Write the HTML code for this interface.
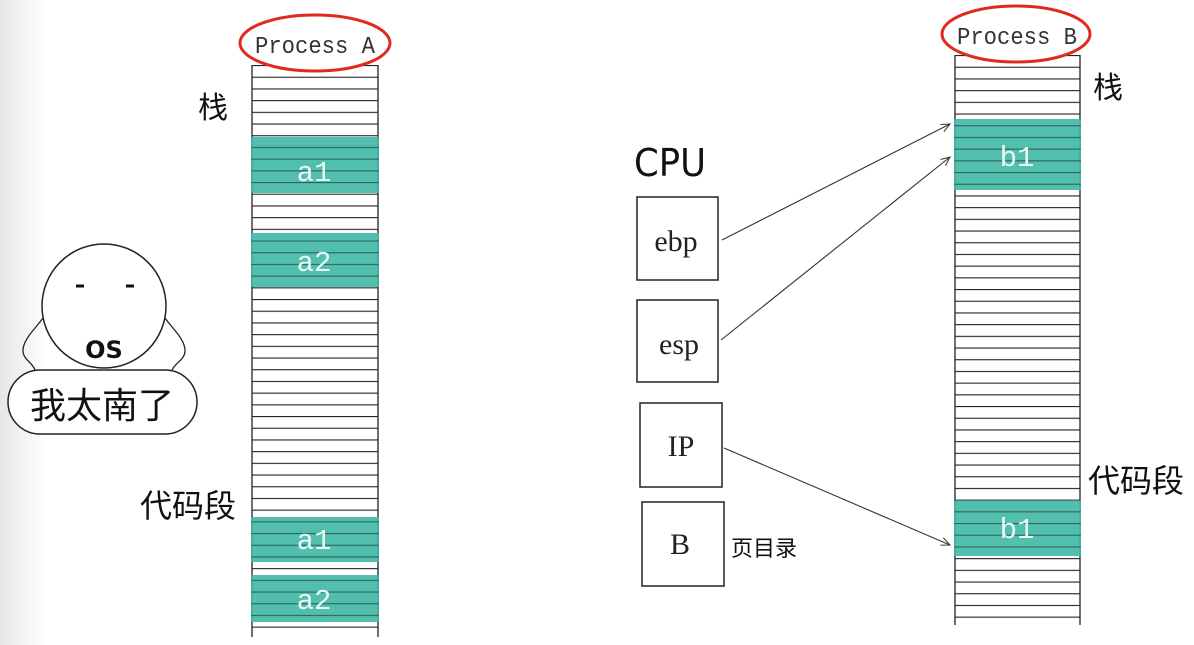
<!DOCTYPE html>
<html><head><meta charset="utf-8"><style>
html,body{margin:0;padding:0;background:#fff;}
svg{display:block;}
</style></head><body>
<svg width="1194" height="645" viewBox="0 0 1194 645" xmlns="http://www.w3.org/2000/svg">
<defs>
<linearGradient id="lg" x1="0" x2="1" y1="0" y2="0">
<stop offset="0" stop-color="#e6e6e6"/><stop offset="1" stop-color="#ffffff"/>
</linearGradient>
<pattern id="pa" x="0" y="65" width="10" height="11.7" patternUnits="userSpaceOnUse">
<line x1="0" y1="0.5" x2="10" y2="0.5" stroke="#222" stroke-width="1.2"/>
</pattern>
<pattern id="pb" x="0" y="55" width="10" height="11.7" patternUnits="userSpaceOnUse">
<line x1="0" y1="0.5" x2="10" y2="0.5" stroke="#222" stroke-width="1.2"/>
</pattern>
<marker id="ar" markerWidth="10" markerHeight="10" refX="9" refY="5" orient="auto" markerUnits="userSpaceOnUse">
<path d="M0,1 L9,5 L0,9" fill="none" stroke="#333" stroke-width="1"/>
</marker>
</defs>
<rect x="0" y="0" width="45" height="645" fill="url(#lg)"/>

<!-- Column A -->
<rect x="252" y="65" width="126" height="572" fill="url(#pa)"/>
<line x1="252" y1="65" x2="252" y2="637" stroke="#222" stroke-width="1.3"/>
<line x1="378" y1="65" x2="378" y2="637" stroke="#222" stroke-width="1.3"/>
<g fill="#3fb8a6" opacity="0.9">
<rect x="251" y="137" width="128" height="56"/>
<rect x="251" y="233" width="128" height="54"/>
<rect x="251" y="517" width="128" height="45"/>
<rect x="251" y="575" width="128" height="47"/>
</g>
<rect x="251" y="137" width="128" height="56" fill="url(#pa)" opacity="0.5"/>
<rect x="251" y="233" width="128" height="54" fill="url(#pa)" opacity="0.5"/>
<rect x="251" y="517" width="128" height="45" fill="url(#pa)" opacity="0.5"/>
<rect x="251" y="575" width="128" height="47" fill="url(#pa)" opacity="0.5"/>
<g font-family="Liberation Mono, monospace" font-size="29" fill="#e8f8f4" text-anchor="middle">
<text x="314" y="181">a1</text><text x="314" y="271">a2</text>
<text x="314" y="549">a1</text><text x="314" y="609">a2</text>
</g>
<ellipse cx="315" cy="43" rx="75" ry="28" fill="#fff" stroke="#e02a1f" stroke-width="3"/>
<text x="255" y="53" font-family="Liberation Mono, monospace" font-size="24" fill="#333" textLength="120" lengthAdjust="spacingAndGlyphs">Process A</text>
<text x="198" y="118" font-family="Liberation Sans, Noto Sans CJK SC, sans-serif" font-size="30" fill="#111">栈</text>
<text x="140" y="517" font-family="Liberation Sans, Noto Sans CJK SC, sans-serif" font-size="32" fill="#111">代码段</text>

<!-- OS -->
<path d="M43,318 C36,328 22,340 23,352 C24,360 32,362 35,370 M165,318 C172,328 186,340 185,352 C184,360 176,362 172,370" fill="none" stroke="#222" stroke-width="1.3"/>
<rect x="8" y="370" width="189" height="64" rx="32" fill="#fff" stroke="#222" stroke-width="1.5"/>
<circle cx="104" cy="306" r="62" fill="#fff" stroke="#222" stroke-width="1.5"/>
<line x1="76" y1="286" x2="84" y2="286" stroke="#111" stroke-width="3"/>
<line x1="126" y1="286" x2="134" y2="286" stroke="#111" stroke-width="3"/>
<text x="104" y="358" font-family="DejaVu Sans, sans-serif" font-weight="bold" font-size="24" fill="#111" text-anchor="middle">OS</text>
<text x="102" y="418" font-family="Liberation Sans, Noto Sans CJK SC, sans-serif" font-size="36" fill="#111" text-anchor="middle">我太南了</text>

<!-- CPU -->
<text x="634" y="176" font-family="DejaVu Sans, sans-serif" font-size="38" fill="#111" textLength="72" lengthAdjust="spacingAndGlyphs">CPU</text>
<g fill="#fff" stroke="#222" stroke-width="1.5">
<rect x="637" y="197" width="81" height="83"/>
<rect x="637" y="300" width="81" height="82"/>
<rect x="640" y="403" width="82" height="84"/>
<rect x="642" y="502" width="82" height="84"/>
</g>
<g font-family="Liberation Serif, serif" font-size="30" fill="#222" text-anchor="middle">
<text x="676" y="251">ebp</text><text x="679" y="354">esp</text>
<text x="681" y="456">IP</text><text x="680" y="554">B</text>
</g>
<text x="731" y="556" font-family="Liberation Sans, Noto Sans CJK SC, sans-serif" font-size="22" fill="#111">页目录</text>

<!-- Column B -->
<rect x="955" y="55" width="125" height="570" fill="url(#pb)"/>
<line x1="955" y1="55" x2="955" y2="625" stroke="#222" stroke-width="1.3"/>
<line x1="1080" y1="55" x2="1080" y2="625" stroke="#222" stroke-width="1.3"/>
<rect x="954" y="119" width="127" height="71" fill="#3fb8a6" opacity="0.9"/>
<rect x="954" y="500" width="127" height="56" fill="#3fb8a6" opacity="0.9"/>
<rect x="954" y="119" width="127" height="71" fill="url(#pb)" opacity="0.5"/>
<rect x="954" y="500" width="127" height="56" fill="url(#pb)" opacity="0.5"/>
<g font-family="Liberation Mono, monospace" font-size="29" fill="#e8f8f4" text-anchor="middle">
<text x="1017" y="166">b1</text><text x="1017" y="538">b1</text>
</g>
<ellipse cx="1016" cy="34" rx="74" ry="28" fill="#fff" stroke="#e02a1f" stroke-width="3"/>
<text x="957" y="44" font-family="Liberation Mono, monospace" font-size="24" fill="#333" textLength="120" lengthAdjust="spacingAndGlyphs">Process B</text>
<text x="1093" y="98" font-family="Liberation Sans, Noto Sans CJK SC, sans-serif" font-size="30" fill="#111">栈</text>
<text x="1088" y="492" font-family="Liberation Sans, Noto Sans CJK SC, sans-serif" font-size="32" fill="#111">代码段</text>

<!-- arrows -->
<g stroke="#333" stroke-width="1.1" fill="none">
<line x1="722" y1="240" x2="950" y2="124" marker-end="url(#ar)"/>
<line x1="721" y1="340" x2="950" y2="157" marker-end="url(#ar)"/>
<line x1="724" y1="448" x2="950" y2="545" marker-end="url(#ar)"/>
</g>
</svg>
</body></html>
